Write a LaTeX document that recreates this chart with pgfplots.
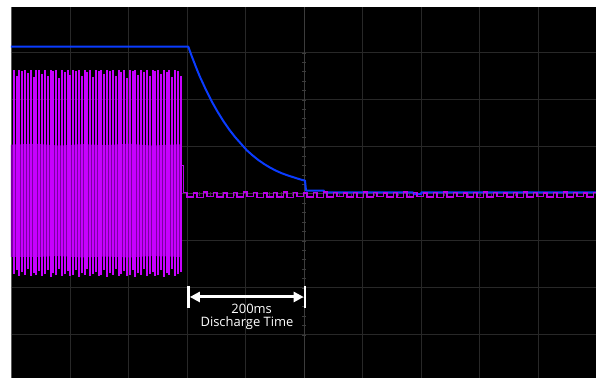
\documentclass[border=0pt]{standalone}
\usepackage{pgfplots}
\pgfplotsset{compat=1.18}
\usepackage{pgfplotstable}
\usetikzlibrary{arrows.meta}
\usepackage{fontspec}
\setmainfont{Open Sans}
\definecolor{trblue}{RGB}{10,60,255}
\definecolor{trmag}{RGB}{200,0,255}
\definecolor{ripmag}{RGB}{185,0,230}
\definecolor{banddark}{RGB}{125,0,165}
\definecolor{gridgray}{RGB}{40,40,40}
\definecolor{axgray}{RGB}{60,60,60}
\definecolor{edgegray}{RGB}{90,90,90}

\pgfplotstableread{
x t b
-4.970 2.64 -1.70
-4.922 2.50 -1.62
-4.873 2.64 -1.74
-4.825 2.62 -1.66
-4.776 2.64 -1.72
-4.728 2.58 -1.60
-4.680 2.64 -1.74
-4.631 2.48 -1.68
-4.583 2.63 -1.72
-4.534 2.64 -1.64
-4.486 2.56 -1.74
-4.438 2.64 -1.70
-4.389 2.50 -1.62
-4.341 2.64 -1.76
-4.292 2.62 -1.68
-4.244 2.64 -1.72
-4.196 2.46 -1.60
-4.147 2.64 -1.74
-4.099 2.60 -1.70
-4.050 2.64 -1.64
-4.002 2.54 -1.74
-3.954 2.64 -1.72
-3.905 2.62 -1.62
-3.857 2.64 -1.76
-3.808 2.50 -1.68
-3.760 2.64 -1.72
-3.712 2.60 -1.60
-3.663 2.64 -1.74
-3.615 2.48 -1.70
-3.566 2.64 -1.66
-3.518 2.62 -1.74
-3.470 2.64 -1.72
-3.421 2.56 -1.62
-3.373 2.64 -1.76
-3.324 2.62 -1.68
-3.276 2.64 -1.72
-3.228 2.50 -1.60
-3.179 2.64 -1.74
-3.131 2.60 -1.70
-3.082 2.64 -1.64
-3.034 2.46 -1.74
-2.986 2.64 -1.72
-2.937 2.62 -1.62
-2.889 2.64 -1.76
-2.840 2.54 -1.68
-2.792 2.64 -1.72
-2.744 2.60 -1.60
-2.695 2.64 -1.74
-2.647 2.50 -1.70
-2.598 2.64 -1.66
-2.550 2.62 -1.74
-2.502 2.64 -1.72
-2.453 2.56 -1.62
-2.405 2.64 -1.76
-2.356 2.60 -1.68
-2.308 2.64 -1.72
-2.260 2.48 -1.60
-2.211 2.64 -1.74
-2.163 2.62 -1.70
-2.114 2.50 -1.66
}\pulses

\pgfplotstableread{
x y
-2.100 0.60
-2.070 0.03
-2.010 -0.06
-1.899 0.02
-1.839 -0.07
-1.728 0.04
-1.668 -0.05
-1.557 0.03
-1.497 -0.06
-1.386 0.02
-1.326 -0.07
-1.215 0.03
-1.155 -0.06
-1.044 0.04
-0.984 -0.05
-0.873 0.03
-0.813 -0.07
-0.702 0.02
-0.642 -0.06
-0.531 0.03
-0.471 -0.06
-0.360 0.04
-0.300 -0.07
-0.189 0.03
-0.129 -0.05
-0.018 0.02
0.042 -0.06
0.153 0.03
0.213 -0.07
0.324 0.04
0.384 -0.06
0.495 0.03
0.555 -0.05
0.666 0.02
0.726 -0.06
0.837 0.03
0.897 -0.07
1.008 0.04
1.068 -0.06
1.179 0.03
1.239 -0.05
1.350 0.02
1.410 -0.06
1.521 0.03
1.581 -0.07
1.692 0.04
1.752 -0.06
1.863 0.03
1.923 -0.05
2.034 0.02
2.094 -0.06
2.205 0.03
2.265 -0.07
2.376 0.04
2.436 -0.06
2.547 0.03
2.607 -0.05
2.718 0.02
2.778 -0.06
2.889 0.03
2.949 -0.07
3.060 0.04
3.120 -0.06
3.231 0.03
3.291 -0.05
3.402 0.02
3.462 -0.06
3.573 0.03
3.633 -0.07
3.744 0.04
3.804 -0.06
3.915 0.03
3.975 -0.05
4.086 0.02
4.146 -0.06
4.257 0.03
4.317 -0.07
4.428 0.04
4.488 -0.06
4.599 0.03
4.659 -0.05
4.770 0.02
4.830 -0.06
4.941 0.03
5.001 -0.06
}\ripple

\begin{document}
\begin{tikzpicture}
\fill[white] (0,0) rectangle (596bp,378bp);
\useasboundingbox (0,0) rectangle (596bp,378bp);
\begin{axis}[
  at={(11bp,0bp)}, anchor=south west,
  scale only axis, width=585bp, height=371.3bp,
  xmin=-5.017, xmax=4.983, ymin=-3.915, ymax=3.985,
  axis lines=middle,
  axis line style={draw=axgray, line width=1bp, -},
  axis background/.style={fill=black},
  xtick={-4,...,4}, ytick={-3,...,3},
  minor x tick num=4, minor y tick num=4,
  xticklabels={}, yticklabels={},
  tick align=center, major tick length=4bp, minor tick length=4bp,
  tick style={draw=axgray, line width=0.8bp},
  grid=major, major grid style={draw=gridgray, line width=1bp},
  clip=true,
]
% scope left border
\addplot[draw=edgegray, line width=1.2bp, no markers] coordinates {(-5.008,-3.915) (-5.008,3.985)};
% magenta PWM band
\addplot[fill=banddark, draw=none, no markers] coordinates {
(-5.02,-1.34) (-5.02,1.05) (-4.6,1.07) (-4.2,1.03) (-3.8,1.06) (-3.4,1.04) (-3.0,1.07) (-2.6,1.03) (-2.10,1.06)
(-2.10,-1.34) (-2.6,-1.32) (-3.0,-1.35) (-3.4,-1.33) (-3.8,-1.35) (-4.2,-1.32) (-4.6,-1.34)};
\addplot[ycomb, draw=trmag, line width=2bp, no markers] table[x=x,y=t] {\pulses};
\addplot[ycomb, draw=trmag, line width=2bp, no markers] table[x=x,y=b] {\pulses};
% blue trace
\addplot[draw=trblue, line width=2bp, no markers, line join=round] coordinates {
(-5.02,3.135) (-1.986,3.135) (-1.936,2.96) (-1.886,2.80) (-1.836,2.64) (-1.786,2.49)
(-1.686,2.22) (-1.586,1.97) (-1.486,1.75) (-1.386,1.55) (-1.286,1.37) (-1.186,1.21)
(-1.086,1.07) (-0.986,0.93) (-0.886,0.82) (-0.786,0.72) (-0.686,0.635) (-0.586,0.56)
(-0.486,0.495) (-0.386,0.44) (-0.286,0.395) (-0.186,0.355) (-0.086,0.315) (0.009,0.284)
(0.026,0.071) (0.333,0.071) (0.333,0.036) (1.85,0.036) (1.87,-0.005) (1.99,-0.005) (2.0,0.036) (4.99,0.036)};
% magenta ripple
\addplot[const plot, draw=ripmag, line width=1.4bp, no markers] table[x=x,y=y] {\ripple};
% annotation
\draw[white, line width=2.7bp] (axis cs:-1.983,-1.957) -- (axis cs:-1.983,-2.426);
\draw[white, line width=2.7bp] (axis cs:0.009,-1.957) -- (axis cs:0.009,-2.426);
\draw[white, line width=3bp, {Triangle[length=10bp,width=10bp]}-{Triangle[length=10bp,width=10bp]}]
  (axis cs:-1.960,-2.191) -- (axis cs:-0.014,-2.191);
\node[white, anchor=base, inner sep=0pt, font=\fontsize{13}{14}\selectfont] at (axis cs:-0.903,-2.538) {200ms};
\node[white, anchor=base, inner sep=0pt, font=\fontsize{13}{14}\selectfont] at (axis cs:-0.983,-2.809) {Discharge Time};
\end{axis}
\end{tikzpicture}
\end{document}
